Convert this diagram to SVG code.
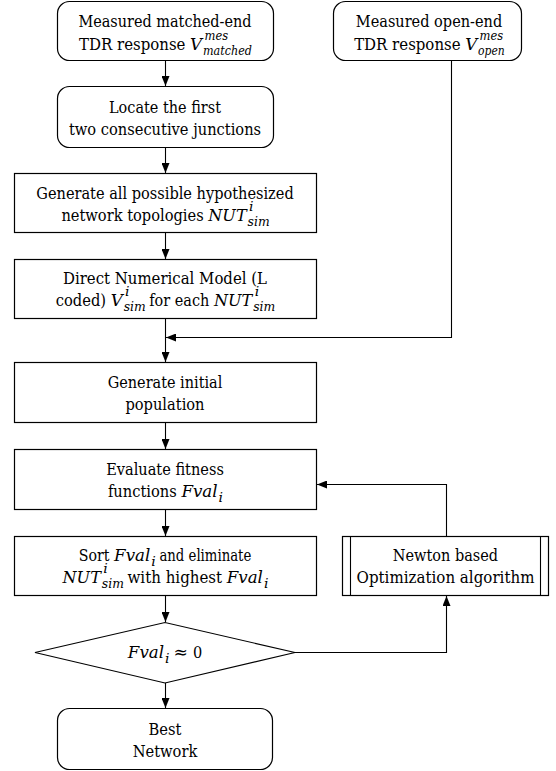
<svg xmlns="http://www.w3.org/2000/svg" width="556" height="771" viewBox="0 0 556 771">
<style>
.box{fill:#fff;stroke:#000;stroke-width:1.2}
.ln{fill:none;stroke:#000;stroke-width:1.1}
text{font-family:'DejaVu Serif','Liberation Serif',serif;font-size:17px;fill:#000}
.mi{font-style:italic}
.sc{font-style:italic;font-size:12px}
</style>
<defs>
<marker id="ah" markerWidth="10" markerHeight="8" refX="10" refY="4" orient="auto" markerUnits="userSpaceOnUse">
<path d="M0,0 L10,4 L0,8 z" fill="#000"/>
</marker>
</defs>
<g id="n1">
<rect class="box" x="57.5" y="1.5" width="216" height="59" rx="12"/>
<text x="78.45" y="27" textLength="173.1" lengthAdjust="spacingAndGlyphs">Measured matched-end</text>
<text x="79.05" y="50" textLength="106.4" lengthAdjust="spacingAndGlyphs">TDR response</text>
<text class="mi" x="190.05" y="50" textLength="12" lengthAdjust="spacingAndGlyphs">V</text>
<text class="sc" x="204.5" y="40" textLength="23.6" lengthAdjust="spacingAndGlyphs">mes</text>
<text class="sc" x="203" y="55" textLength="48.9" lengthAdjust="spacingAndGlyphs">matched</text>
</g>
<g id="n2">
<rect class="box" x="333.5" y="1.5" width="188" height="59" rx="12"/>
<text x="355.8" y="27" textLength="146.4" lengthAdjust="spacingAndGlyphs">Measured open-end</text>
<text x="354.15" y="50" textLength="106.4" lengthAdjust="spacingAndGlyphs">TDR response</text>
<text class="mi" x="465.15" y="50" textLength="12" lengthAdjust="spacingAndGlyphs">V</text>
<text class="sc" x="479.6" y="40" textLength="23.6" lengthAdjust="spacingAndGlyphs">mes</text>
<text class="sc" x="478" y="55" textLength="26.7" lengthAdjust="spacingAndGlyphs">open</text>
</g>
<g id="n3">
<rect class="box" x="57.5" y="86.5" width="216" height="61" rx="12"/>
<text x="109" y="113" textLength="112" lengthAdjust="spacingAndGlyphs">Locate the first</text>
<text x="68.9" y="135" textLength="192.2" lengthAdjust="spacingAndGlyphs">two consecutive junctions</text>
</g>
<g id="n4">
<rect class="box" x="14.5" y="173.5" width="302" height="59"/>
<text x="36.3" y="199" textLength="257.4" lengthAdjust="spacingAndGlyphs">Generate all possible hypothesized</text>
<text x="61.4" y="221" textLength="142.3" lengthAdjust="spacingAndGlyphs">network topologies</text>
<text class="mi" x="208.3" y="221" textLength="38.3" lengthAdjust="spacingAndGlyphs">NUT</text>
<text class="sc" x="249" y="211" textLength="4.5" lengthAdjust="spacingAndGlyphs">i</text>
<text class="sc" x="247.6" y="226" textLength="22" lengthAdjust="spacingAndGlyphs">sim</text>
</g>
<g id="n5">
<rect class="box" x="14.5" y="259.5" width="302" height="59"/>
<text x="63" y="284" textLength="204" lengthAdjust="spacingAndGlyphs">Direct Numerical Model (L</text>
<text x="55.75" y="306" textLength="50.3" lengthAdjust="spacingAndGlyphs">coded)</text>
<text class="mi" x="110.65" y="306" textLength="12" lengthAdjust="spacingAndGlyphs">V</text>
<text class="sc" x="125.1" y="296" textLength="4.5" lengthAdjust="spacingAndGlyphs">i</text>
<text class="sc" x="123.65" y="311" textLength="22" lengthAdjust="spacingAndGlyphs">sim</text>
<text x="149.25" y="306" textLength="60.1" lengthAdjust="spacingAndGlyphs">for each</text>
<text class="mi" x="213.95" y="306" textLength="38.3" lengthAdjust="spacingAndGlyphs">NUT</text>
<text class="sc" x="254.75" y="296" textLength="4.5" lengthAdjust="spacingAndGlyphs">i</text>
<text class="sc" x="253.25" y="311" textLength="22" lengthAdjust="spacingAndGlyphs">sim</text>
</g>
<g id="n6">
<rect class="box" x="14.5" y="362.5" width="302" height="60"/>
<text x="107.7" y="388" textLength="114.6" lengthAdjust="spacingAndGlyphs">Generate initial</text>
<text x="125.45" y="410" textLength="79.1" lengthAdjust="spacingAndGlyphs">population</text>
</g>
<g id="n7">
<rect class="box" x="14.5" y="449.5" width="302" height="60"/>
<text x="106.15" y="475" textLength="117.7" lengthAdjust="spacingAndGlyphs">Evaluate fitness</text>
<text x="107.9" y="497" textLength="68.9" lengthAdjust="spacingAndGlyphs">functions</text>
<text class="mi" x="181.4" y="497" textLength="36.2" lengthAdjust="spacingAndGlyphs">Fval</text>
<text class="sc" x="218.6" y="502" textLength="4.5" lengthAdjust="spacingAndGlyphs">i</text>
</g>
<g id="n8">
<rect class="box" x="14.5" y="536.5" width="302" height="59"/>
<text x="78.7" y="561" textLength="30.8" lengthAdjust="spacingAndGlyphs">Sort</text>
<text class="mi" x="114.1" y="561" textLength="36.2" lengthAdjust="spacingAndGlyphs">Fval</text>
<text class="sc" x="151.3" y="566" textLength="4.5" lengthAdjust="spacingAndGlyphs">i</text>
<text x="159.4" y="561" textLength="91.9" lengthAdjust="spacingAndGlyphs">and eliminate</text>
<text class="mi" x="62.55" y="583" textLength="38.3" lengthAdjust="spacingAndGlyphs">NUT</text>
<text class="sc" x="103.35" y="573" textLength="4.5" lengthAdjust="spacingAndGlyphs">i</text>
<text class="sc" x="101.85" y="588" textLength="22" lengthAdjust="spacingAndGlyphs">sim</text>
<text x="127.45" y="583" textLength="94.7" lengthAdjust="spacingAndGlyphs">with highest</text>
<text class="mi" x="226.75" y="583" textLength="36.2" lengthAdjust="spacingAndGlyphs">Fval</text>
<text class="sc" x="263.95" y="588" textLength="4.5" lengthAdjust="spacingAndGlyphs">i</text>
</g>
<g id="n9">
<rect class="box" x="342.5" y="536.5" width="206" height="59"/>
<line class="ln" x1="350.5" y1="536.5" x2="350.5" y2="595.5"/>
<line class="ln" x1="540.5" y1="536.5" x2="540.5" y2="595.5"/>
<text x="392.85" y="561" textLength="105.3" lengthAdjust="spacingAndGlyphs">Newton based</text>
<text x="356.55" y="583" textLength="177.9" lengthAdjust="spacingAndGlyphs">Optimization algorithm</text>
</g>
<g id="n10">
<polygon class="box" points="35,652.5 165,622.5 295,652.5 165,683"/>
<text class="mi" x="127.85" y="658" textLength="36.2" lengthAdjust="spacingAndGlyphs">Fval</text>
<text class="sc" x="165.05" y="663" textLength="4.5" lengthAdjust="spacingAndGlyphs">i</text>
<text x="173.55" y="658" textLength="14.4" lengthAdjust="spacingAndGlyphs">≈</text>
<text x="192.95" y="658" textLength="9.25" lengthAdjust="spacingAndGlyphs">0</text>
</g>
<g id="n11">
<rect class="box" x="57.5" y="708.5" width="215" height="61" rx="12"/>
<text x="148.55" y="735" textLength="32.9" lengthAdjust="spacingAndGlyphs">Best</text>
<text x="132.65" y="757" textLength="64.7" lengthAdjust="spacingAndGlyphs">Network</text>
</g>
<g id="connectors">
<line class="ln" x1="165.5" y1="61" x2="165.5" y2="86" marker-end="url(#ah)"/>
<line class="ln" x1="165.5" y1="148" x2="165.5" y2="173" marker-end="url(#ah)"/>
<line class="ln" x1="165.5" y1="233" x2="165.5" y2="259" marker-end="url(#ah)"/>
<line class="ln" x1="165.5" y1="319" x2="165.5" y2="362" marker-end="url(#ah)"/>
<path class="ln" d="M451.5,61 V337.5 H166" marker-end="url(#ah)"/>
<line class="ln" x1="165.5" y1="423" x2="165.5" y2="449" marker-end="url(#ah)"/>
<line class="ln" x1="165.5" y1="510" x2="165.5" y2="536" marker-end="url(#ah)"/>
<line class="ln" x1="165.5" y1="596" x2="165.5" y2="622" marker-end="url(#ah)"/>
<line class="ln" x1="165.5" y1="683" x2="165.5" y2="708" marker-end="url(#ah)"/>
<path class="ln" d="M295,652.5 H446.5 V596" marker-end="url(#ah)"/>
<path class="ln" d="M446.5,536 V484.5 H317" marker-end="url(#ah)"/>
</g>
</svg>
